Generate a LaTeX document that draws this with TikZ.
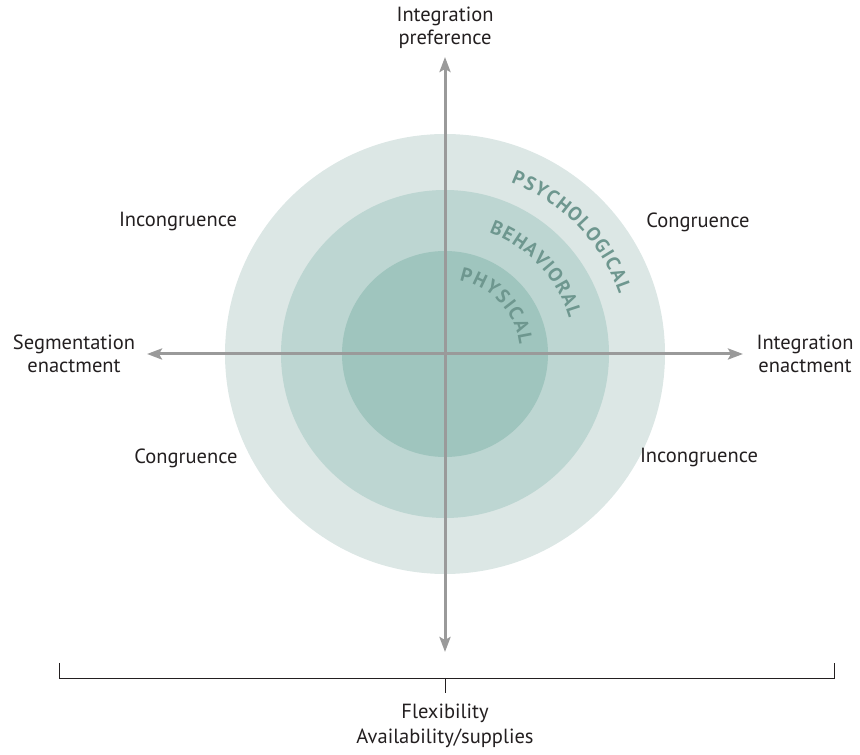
\documentclass[tikz,border=0pt]{standalone}
\usepackage{fontspec}
\setmainfont{PT Sans}
\usetikzlibrary{arrows.meta,decorations.text,calc}
\definecolor{ringA}{HTML}{DCE7E5}
\definecolor{ringB}{HTML}{BDD6D2}
\definecolor{ringC}{HTML}{9FC5BE}
\definecolor{axisgray}{HTML}{9A9A9A}
\definecolor{curvetext}{HTML}{6E978F}
\definecolor{txt}{HTML}{231F20}
\newcommand{\arcfont}{\fontsize{19.5}{19.5}\selectfont\bfseries\color{curvetext}}
\tikzset{
  axisline/.style={draw=axisgray, line width=3pt, -{Stealth[length=15pt,width=11pt,inset=3pt]}},
  lbl/.style={text=txt, font=\fontsize{20.5}{23}\selectfont, align=center, inner sep=0pt},
  bracket/.style={draw=txt, line width=0.9pt},
  arclabel/.style={font=\arcfont, decorate, decoration={text along path, text align=fit to path,
     text={|\arcfont|#1}}}
}
\begin{document}
\begin{tikzpicture}[x=1pt,y=1pt]
\useasboundingbox (0,0) rectangle (860,755);
\coordinate (C) at (445,401);
\fill[ringA] (C) circle (220);
\fill[ringB] (C) circle (164);
\fill[ringC] (C) circle (103);
% curved labels
\path[arclabel={PSYCHOLOGICAL}] ($(C)+(69:184)$) arc (69:19:184);
\path[arclabel={BEHAVIORAL}] ($(C)+(70:129)$) arc (70:16:129);
\path[arclabel={PHYSICAL}] ($(C)+(79:75)$) arc (79:7:75);
% axes
\coordinate (top) at (445,698);
\coordinate (bot) at (445,103);
\coordinate (left) at (147,401);
\coordinate (right) at (743,401);
\draw[axisline] (C) -- (top);
\draw[axisline] (C) -- (bot);
\draw[axisline] (C) -- (left);
\draw[axisline] (C) -- (right);
% labels
\node[lbl] (ip) at (445,727) {Integration\\preference};
\node[lbl] (se) at (74,401) {Segmentation\\enactment};
\node[lbl] (ie) at (805,401) {Integration\\enactment};
\node[lbl] (incTL) at (178,533) {Incongruence};
\node[lbl] (conTR) at (698,533) {Congruence};
\node[lbl] (conBL) at (186,297) {Congruence};
\node[lbl] (incBR) at (699,297) {Incongruence};
% bracket
\coordinate (bl) at (59,92);
\coordinate (bl0) at (59,77);
\coordinate (br0) at (834,77);
\coordinate (br) at (834,92);
\coordinate (bm) at (445,77);
\coordinate (bm2) at (445,62);
\draw[bracket] (bl) -- (bl0) -- (br0) -- (br);
\draw[bracket] (bm) -- (bm2);
\node[lbl] (flex) at (445,42) {Flexibility};
\node[lbl] (avail) at (445,17) {Availability/supplies};
\end{tikzpicture}
\end{document}
